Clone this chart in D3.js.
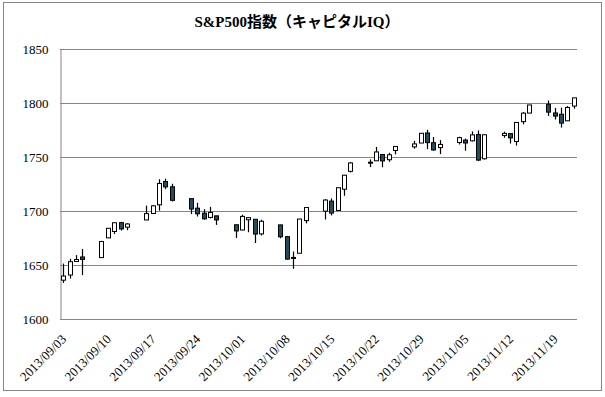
<!DOCTYPE html>
<html>
<head>
<meta charset="utf-8">
<script src="https://cdn.jsdelivr.net/npm/d3@7"></script>
<style>
  body { margin: 0; background: #fff; }
  text { font-family: "Liberation Serif", "Noto Sans CJK JP", serif; }
</style>
</head>
<body>
<svg width="605" height="397"></svg>
<script>
// trading days (2013)
var dates = ["09/03","09/04","09/05","09/06","09/09","09/10","09/11","09/12","09/13",
  "09/16","09/17","09/18","09/19","09/20","09/23","09/24","09/25","09/26","09/27","09/30",
  "10/01","10/02","10/03","10/04","10/07","10/08","10/09","10/10","10/11",
  "10/14","10/15","10/16","10/17","10/18","10/21","10/22","10/23","10/24","10/25",
  "10/28","10/29","10/30","10/31","11/01","11/04","11/05","11/06","11/07","11/08",
  "11/11","11/12","11/13","11/14","11/15","11/18","11/19","11/20","11/21","11/22"];
var open = [1635.95,1640.72,1653.28,1657.44,1656.85,1675.11,1681.04,1689.21,1685.04,
  1691.70,1697.73,1705.74,1727.34,1722.44,1711.44,1702.60,1698.02,1694.05,1695.52,1687.26,
  1682.41,1691.90,1692.35,1678.79,1687.15,1676.22,1656.99,1660.88,1691.09,
  1699.86,1709.17,1700.49,1720.17,1736.72,1745.20,1746.48,1752.27,1747.48,1756.01,
  1759.42,1762.93,1772.27,1763.24,1758.70,1763.40,1765.67,1765.00,1770.74,1748.37,
  1769.96,1771.68,1764.37,1782.75,1790.66,1798.82,1790.79,1789.59,1783.52,1797.21];
var high = [1651.35,1655.72,1659.17,1664.83,1672.40,1684.09,1689.13,1689.97,1688.73,
  1704.95,1705.52,1729.44,1729.86,1725.23,1711.44,1707.63,1701.71,1703.85,1695.52,1687.26,
  1696.55,1693.87,1692.35,1691.94,1687.15,1676.79,1662.47,1692.56,1703.44,
  1711.03,1711.57,1721.76,1733.45,1745.31,1747.79,1759.33,1752.27,1753.94,1759.82,
  1764.99,1772.09,1775.22,1768.53,1765.67,1768.78,1767.03,1773.74,1774.54,1770.78,
  1773.44,1771.68,1782.00,1791.53,1798.22,1802.33,1795.51,1795.73,1797.16,1804.84];
var low = [1633.41,1637.41,1653.07,1640.62,1656.85,1675.11,1678.70,1681.96,1682.22,
  1691.70,1697.73,1700.35,1720.20,1708.89,1697.10,1694.90,1691.88,1693.11,1687.11,1674.99,
  1682.07,1680.34,1670.36,1677.33,1674.70,1655.03,1646.47,1660.88,1688.52,
  1692.13,1695.93,1700.49,1714.12,1735.74,1740.67,1746.48,1740.50,1745.50,1752.45,
  1757.67,1762.93,1757.24,1755.72,1752.70,1761.56,1755.76,1764.40,1746.20,1747.63,
  1767.85,1762.46,1760.64,1780.22,1790.66,1788.00,1784.72,1777.23,1783.52,1794.70];
var close = [1639.77,1653.08,1655.08,1655.17,1671.71,1683.99,1689.13,1683.42,1687.99,
  1697.60,1704.76,1725.52,1722.34,1709.91,1701.84,1697.42,1692.77,1698.67,1691.75,1681.55,
  1695.00,1693.87,1678.66,1690.50,1676.12,1655.45,1656.40,1692.56,1703.20,
  1710.14,1698.06,1721.54,1733.15,1744.50,1744.66,1754.67,1746.38,1752.07,1759.77,
  1762.11,1771.95,1763.31,1756.54,1761.64,1767.93,1762.97,1770.49,1747.15,1770.61,
  1771.89,1767.69,1782.00,1790.62,1798.18,1791.53,1787.87,1781.37,1795.85,1804.76];
var yTicks = [1600, 1650, 1700, 1750, 1800, 1850];

var parse = d3.timeParse("%Y/%m/%d");
var fmt = d3.timeFormat("%Y/%m/%d");
var data = dates.map((d, i) => ({
  date: fmt(parse("2013/" + d)), o: open[i], h: high[i], l: low[i], c: close[i]
}));

// every calendar day is a slot (date axis)
var days = d3.timeDay.range(parse("2013/09/03"), d3.timeDay.offset(parse("2013/11/22"), 1)).map(fmt);
var xTicks = days.filter((d, i) => i % 7 == 0);

var margin = { top: 49, right: 28, bottom: 78, left: 60 };
var width = 605, height = 397;

var svg = d3.select("svg");

svg.append("rect")
  .attr("x", 3.5).attr("y", 2.5)
  .attr("width", 598).attr("height", 388)
  .attr("fill", "#fff").attr("stroke", "#868686");

var x = d3.scaleBand()
  .domain(days)
  .range([margin.left, width - margin.right]);

var y = d3.scaleLinear()
  .domain([1600, 1850])
  .range([height - margin.bottom, margin.top]);

// gridlines
svg.append("g")
  .selectAll("line")
  .data(yTicks)
  .join("line")
  .attr("x1", margin.left).attr("x2", width - margin.right)
  .attr("y1", d => Math.round(y(d)) + 0.5).attr("y2", d => Math.round(y(d)) + 0.5)
  .attr("stroke", "#868686");

// y axis
var yAxis = svg.append("g")
  .attr("transform", `translate(${margin.left + 0.5},0.5)`)
  .call(d3.axisLeft(y).tickValues(yTicks).tickSize(0).tickPadding(12).tickFormat(d3.format("d")));
yAxis.select(".domain").attr("stroke", "#868686");
yAxis.selectAll("text").attr("font-size", 13).attr("fill", "#000");

// x axis
var xAxis = svg.append("g")
  .attr("transform", `translate(0,${height - margin.bottom})`)
  .call(d3.axisBottom(x).tickValues(xTicks).tickSize(0).tickPadding(0));
xAxis.select(".domain").remove();
xAxis.selectAll("text")
  .attr("font-size", 13)
  .attr("fill", "#000")
  .attr("text-anchor", "end")
  .attr("dy", 0)
  .attr("transform", "translate(4,21) rotate(-45)");

// candles
var g = svg.append("g");
var bw = 4;
g.selectAll("line")
  .data(data)
  .join("line")
  .attr("x1", d => Math.round(x(d.date) + x.bandwidth() / 2) + 0.5)
  .attr("x2", d => Math.round(x(d.date) + x.bandwidth() / 2) + 0.5)
  .attr("y1", d => y(d.h))
  .attr("y2", d => y(d.l))
  .attr("stroke", "#000")
  .attr("stroke-width", 1.2);

g.selectAll("rect")
  .data(data)
  .join("rect")
  .attr("x", d => Math.round(x(d.date) + x.bandwidth() / 2) + 0.5 - bw / 2)
  .attr("y", d => y(Math.max(d.o, d.c)))
  .attr("width", bw)
  .attr("height", d => Math.max(1, Math.abs(y(d.o) - y(d.c))))
  .attr("fill", d => d.c >= d.o ? "#fff" : "#1f4e5f")
  .attr("stroke", "#000")
  .attr("stroke-width", 1);

// title
svg.append("text")
  .attr("x", 297).attr("y", 27)
  .attr("text-anchor", "middle")
  .attr("font-size", 15)
  .attr("font-weight", "bold")
  .text("S&P500指数（キャピタルIQ）");
</script>
</body>
</html>
